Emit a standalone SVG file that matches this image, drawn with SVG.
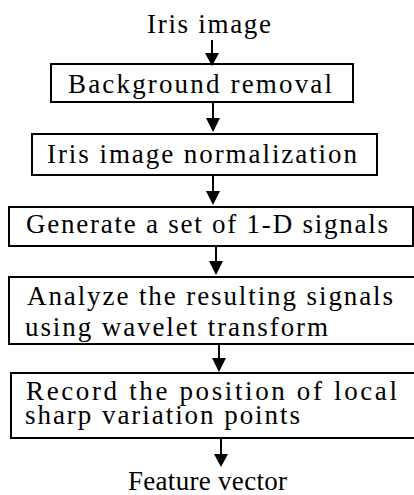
<svg xmlns="http://www.w3.org/2000/svg" width="414" height="495" viewBox="0 0 414 495">
<defs>
<style>
.box{fill:#fff;stroke:#000;stroke-width:2}
text{font-family:'Liberation Serif','Times New Roman','DejaVu Serif',serif;font-size:27px;fill:#000}
.c line{stroke:#000;stroke-width:2}
.c polygon{fill:#000}
</style>
</defs>
<rect width="414" height="495" fill="#fff"/>
<g id="n0"><text x="147" y="33" textLength="124" lengthAdjust="spacing">Iris image</text></g>
<g id="n1"><rect class="box" x="51" y="64" width="302" height="38"/><text x="68" y="93" textLength="264" lengthAdjust="spacing">Background removal</text></g>
<g id="n2"><rect class="box" x="32" y="134" width="345" height="41"/><text x="47" y="163" textLength="310" lengthAdjust="spacing">Iris image normalization</text></g>
<g id="n3"><rect class="box" x="9" y="207" width="404" height="39"/><text x="26" y="233" textLength="362" lengthAdjust="spacing">Generate a set of 1-D signals</text></g>
<g id="n4"><rect class="box" x="9" y="277" width="410" height="67"/><text x="27" y="305" textLength="366" lengthAdjust="spacing">Analyze the resulting signals</text><text x="25" y="336" textLength="303" lengthAdjust="spacing">using wavelet transform</text></g>
<g id="n5"><rect class="box" x="11" y="373" width="410" height="65"/><text x="26" y="400" textLength="371" lengthAdjust="spacing">Record the position of local</text><text x="25" y="424" textLength="275" lengthAdjust="spacing">sharp variation points</text></g>
<g id="n6"><text x="128" y="490" textLength="159" lengthAdjust="spacing">Feature vector</text></g>
<g class="c" id="connectors">
<line x1="212" y1="40" x2="212" y2="54"/><polygon points="205,53 219,53 212,66"/>
<line x1="213" y1="103" x2="213" y2="119"/><polygon points="206,118 220,118 213,132"/>
<line x1="213" y1="176" x2="213" y2="192"/><polygon points="206,191 220,191 213,205"/>
<line x1="216" y1="247" x2="216" y2="262"/><polygon points="209,261 223,261 216,275"/>
<line x1="219" y1="345" x2="219" y2="359"/><polygon points="212,358 226,358 219,372"/>
<line x1="221" y1="439" x2="221" y2="455"/><polygon points="214,454 228,454 221,467"/>
</g>
</svg>
